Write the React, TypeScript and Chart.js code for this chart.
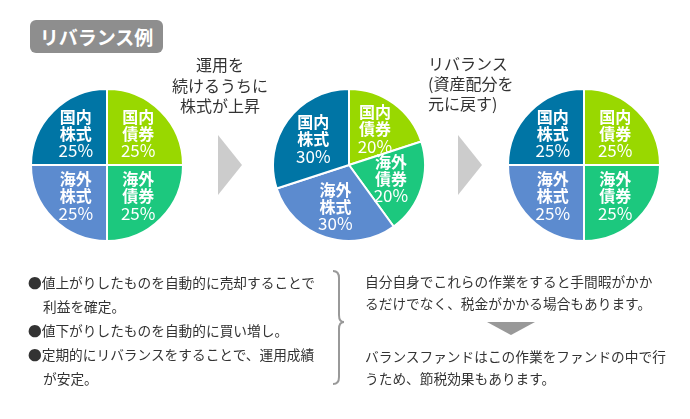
import React, { useEffect, useRef } from "react";
import { Chart, registerables } from "chart.js";

Chart.register(...registerables);

// ---- data ----
const categories: string[][] = [
  ["国内", "債券"],
  ["海外", "債券"],
  ["海外", "株式"],
  ["国内", "株式"],
];
const colors = ["#99d800", "#1cc87e", "#5c8bcf", "#0075a5"];
const initialValues = [25, 25, 25, 25];
const afterRiseValues = [20, 20, 30, 30];
const rebalancedValues = [25, 25, 25, 25];

const pies = [
  { values: initialValues, cx: 107, cy: 165 },
  { values: afterRiseValues, cx: 348.5, cy: 165 },
  { values: rebalancedValues, cx: 584, cy: 165 },
];

const FONT = '"Noto Sans CJK JP", "Noto Sans", sans-serif';
const SIZE = 154;

const labelPlugin = {
  id: "sliceLabels",
  afterDatasetsDraw(chart: any) {
    const ctx = chart.ctx;
    const meta = chart.getDatasetMeta(0);
    const data = chart.data.datasets[0].data as number[];
    meta.data.forEach((arc: any, i: number) => {
      const p = arc.getProps(["x", "y", "startAngle", "endAngle", "outerRadius"], true);
      const mid = (p.startAngle + p.endAngle) / 2;
      const d = p.outerRadius * 0.58;
      const x = p.x + Math.cos(mid) * d;
      const y = p.y + Math.sin(mid) * d;
      const name = categories[i];
      ctx.save();
      ctx.fillStyle = "#ffffff";
      ctx.textAlign = "center";
      ctx.textBaseline = "middle";
      ctx.font = `bold 16px ${FONT}`;
      ctx.fillText(name[0], x, y - 17);
      ctx.fillText(name[1], x, y);
      ctx.font = `17px ${FONT}`;
      ctx.fillText(`${data[i]}%`, x, y + 17);
      ctx.restore();
    });
  },
};

function Pie({ values, cx, cy }: { values: number[]; cx: number; cy: number }) {
  const ref = useRef<HTMLCanvasElement>(null);
  useEffect(() => {
    if (!ref.current) return;
    const chart = new Chart(ref.current, {
      type: "pie",
      data: {
        labels: categories.map((c) => c.join("")),
        datasets: [
          {
            data: values,
            backgroundColor: colors,
            borderColor: "#ffffff",
            borderWidth: 2,
          },
        ],
      },
      options: {
        responsive: false,
        animation: false,
        devicePixelRatio: 1,
        layout: { padding: 0 },
        plugins: { legend: { display: false }, tooltip: { enabled: false } },
      },
      plugins: [labelPlugin],
    });
    return () => chart.destroy();
  }, [values]);
  return (
    <canvas
      ref={ref}
      width={SIZE}
      height={SIZE}
      style={{ position: "absolute", left: cx - SIZE / 2, top: cy - SIZE / 2, width: SIZE, height: SIZE }}
    />
  );
}

const arrowText1 = ["運用を", "続けるうちに", "株式が上昇"];
const arrowText2 = ["リバランス", "(資産配分を", "元に戻す)"];
const leftLines = [
  { t: "●値上がりしたものを自動的に売却することで", indent: false },
  { t: "利益を確定。", indent: true },
  { t: "●値下がりしたものを自動的に買い増し。", indent: false },
  { t: "●定期的にリバランスをすることで、運用成績", indent: false },
  { t: "が安定。", indent: true },
];
const rightTop = ["自分自身でこれらの作業をすると手間暇がかか", "るだけでなく、税金がかかる場合もあります。"];
const rightBottom = ["バランスファンドはこの作業をファンドの中で行", "うため、節税効果もあります。"];

export default function App() {
  const txt: React.CSSProperties = { position: "absolute", fontFamily: FONT, color: "#333", whiteSpace: "nowrap" };
  return (
    <div style={{ position: "fixed", left: 0, top: 0, width: 690, height: 419, background: "#fff", overflow: "hidden" }}>
      <div
        style={{
          position: "absolute",
          left: 30,
          top: 20,
          width: 133,
          height: 33,
          background: "#8e8e8e",
          borderRadius: 6,
          color: "#fff",
          fontFamily: FONT,
          fontWeight: "bold",
          fontSize: 19,
          lineHeight: "33px",
          textAlign: "center",
        }}
      >
        リバランス例
      </div>

      {pies.map((p, i) => (
        <Pie key={i} values={p.values} cx={p.cx} cy={p.cy} />
      ))}

      <div style={{ ...txt, left: 160, width: 120, top: 54, fontSize: 16, lineHeight: "20.5px", textAlign: "center" }}>
        {arrowText1.map((l, i) => (
          <div key={i}>{l}</div>
        ))}
      </div>
      <div style={{ ...txt, left: 428, top: 53, fontSize: 16, lineHeight: "20px" }}>
        {arrowText2.map((l, i) => (
          <div key={i}>{l}</div>
        ))}
      </div>

      <svg width={690} height={419} style={{ position: "absolute", left: 0, top: 0 }}>
        <polygon points="218,135 242,165 218,195" fill="#cccccc" />
        <polygon points="458,135 482,165 458,195" fill="#cccccc" />
        <path
          d="M333,271 Q339,271 339,278 L339,315 Q339,322 344,322 Q339,322 339,329 L339,377 Q339,384 333,384"
          fill="none"
          stroke="#999"
          strokeWidth={2}
        />
        <polygon points="487,322 535,322 511,335" fill="#999999" />
      </svg>

      <div style={{ ...txt, left: 28, top: 270, fontSize: 13.7, lineHeight: "24px" }}>
        {leftLines.map((l, i) => (
          <div key={i} style={{ paddingLeft: l.indent ? 15 : 0 }}>
            {l.t}
          </div>
        ))}
      </div>

      <div style={{ ...txt, left: 365, top: 271, fontSize: 13.7, lineHeight: "21.7px" }}>
        {rightTop.map((l, i) => (
          <div key={i}>{l}</div>
        ))}
      </div>
      <div style={{ ...txt, left: 365, top: 346, fontSize: 13.7, lineHeight: "21.7px" }}>
        {rightBottom.map((l, i) => (
          <div key={i}>{l}</div>
        ))}
      </div>
    </div>
  );
}
